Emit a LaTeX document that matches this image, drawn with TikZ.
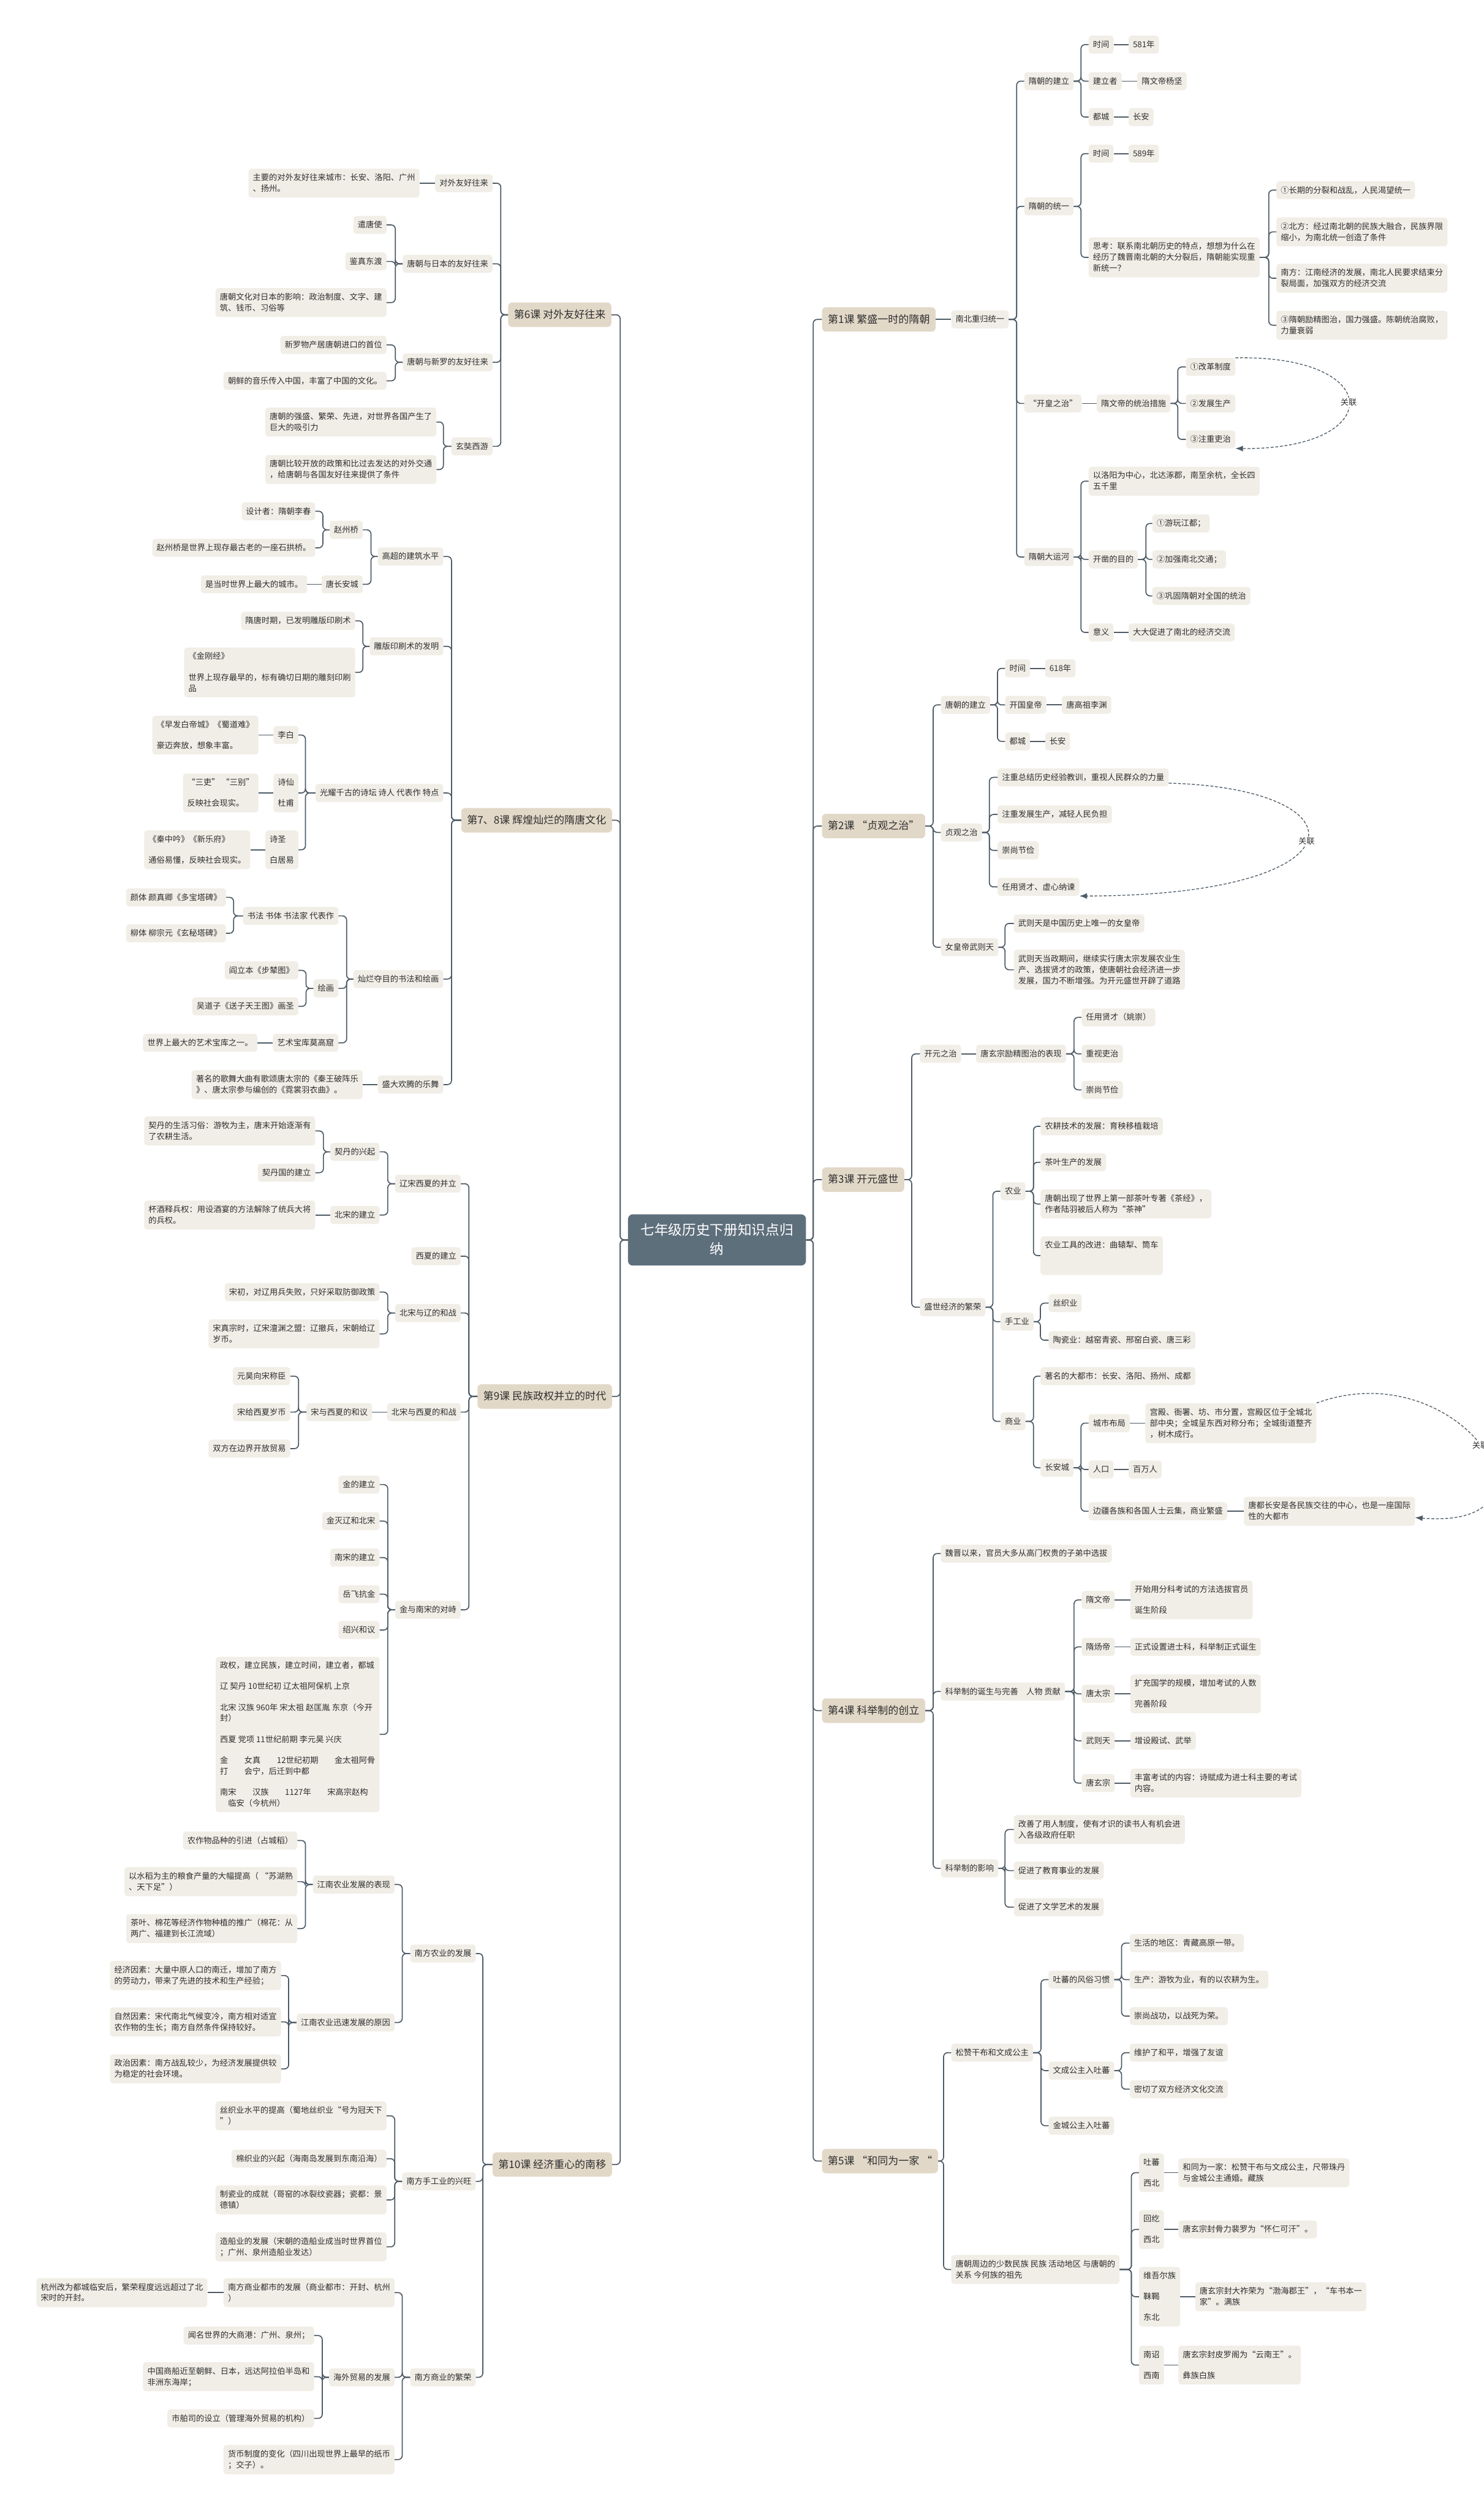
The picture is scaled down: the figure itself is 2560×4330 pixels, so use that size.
\documentclass[tikz,border=0pt]{standalone}
\usepackage{fontspec}
\setmainfont{Noto Sans CJK SC}
\usetikzlibrary{arrows.meta}
\definecolor{linec}{HTML}{4E5B66}
\definecolor{subc}{HTML}{F1EEE7}
\definecolor{lvc}{HTML}{E2D8C8}
\definecolor{rootc}{HTML}{5E6F7C}
\definecolor{txtc}{HTML}{2E2E2E}
\newcommand\myfs{\fontsize{14pt}{19pt}\selectfont}
\newcommand\myfl{\fontsize{18pt}{23pt}\selectfont}
\newcommand\myfr{\fontsize{24pt}{32pt}\selectfont}
\newcommand\stS{\rule[-2pt]{0pt}{14pt}}
\newcommand\stL{\rule[-3pt]{0pt}{18pt}}
\newcommand\stR{\rule[-4pt]{0pt}{24pt}}
\newcommand\pb{\\[17pt]}
\newcommand\cR[3]{\draw[lk] (#1.east) -- (#3,0 |- #1.east) |- (#2.west);}
\newcommand\cL[3]{\draw[lk] (#1.west) -- (#3,0 |- #1.west) |- (#2.east);}
\newcommand\sR[2]{\draw[lk] (#1.east) -- (#2.west);}
\newcommand\sL[2]{\draw[lk] (#1.west) -- (#2.east);}
\tikzset{
 lk/.style={draw=linec, line width=1.8pt, rounded corners=7pt},
 bx/.style={fill=subc, rounded corners=5pt, inner xsep=7.5pt, inner ysep=8.5pt, font=\myfs, align=left, text=txtc, execute at begin node=\stS, execute at end node=\stS},
 R/.style={bx, anchor=west},
 L/.style={bx, anchor=east},
 lv/.style={fill=lvc, rounded corners=7pt, inner xsep=10pt, inner ysep=12pt, font=\myfl, text=txtc, execute at begin node=\stL, execute at end node=\stL},
 rootn/.style={fill=rootc, text=white, rounded corners=8pt, font=\myfr, align=center, minimum width=307pt, inner ysep=16pt, execute at begin node=\stR, execute at end node=\stR},
 rel/.style={draw=linec, line width=1.4pt, dash pattern=on 5pt off 3pt, -{Latex[length=13pt,width=10pt]}},
 lab/.style={fill=white, font=\myfs, text=txtc, inner sep=2pt}
}
\begin{document}
\begin{tikzpicture}[x=1pt,y=-1pt]
\path[use as bounding box, fill=white] (0,0) rectangle (2560,4330);
\node[rootn] (root) at (1237,2139) {七年级历史下册知识点归\\纳};
% ---------------- RIGHT: lesson 1
\node[lv,anchor=west] (L1) at (1418,551) {第1课 繁盛一时的隋朝};
\node[R] (a) at (1641,551) {南北重归统一};
\node[R] (a1) at (1767,140) {隋朝的建立};
\node[R] (a2) at (1767,356) {隋朝的统一};
\node[R] (a3) at (1767,696) {“开皇之治”};
\node[R] (a4) at (1767,961) {隋朝大运河};
\node[R] (a11) at (1878,77) {时间};
\node[R] (a11x) at (1947,77) {581年};
\node[R] (a12) at (1878,140) {建立者};
\node[R] (a12x) at (1962,140) {隋文帝杨坚};
\node[R] (a13) at (1878,202) {都城};
\node[R] (a13x) at (1947,202) {长安};
\node[R] (a21) at (1878,265) {时间};
\node[R] (a21x) at (1947,265) {589年};
\node[R] (a22) at (1878,444) {思考：联系南北朝历史的特点，想想为什么在\\经历了魏晋南北朝的大分裂后，隋朝能实现重\\新统一？};
\node[R] (a221) at (2202,328) {①长期的分裂和战乱，人民渴望统一};
\node[R] (a222) at (2202,400) {②北方：经过南北朝的民族大融合，民族界限\\缩小，为南北统一创造了条件};
\node[R] (a223) at (2202,480) {南方：江南经济的发展，南北人民要求结束分\\裂局面，加强双方的经济交流};
\node[R] (a224) at (2202,561) {③隋朝励精图治，国力强盛。陈朝统治腐败，\\力量衰弱};
\node[R] (a31) at (1892,696) {隋文帝的统治措施};
\node[R] (a311) at (2046,633) {①改革制度};
\node[R] (a312) at (2046,696) {②发展生产};
\node[R] (a313) at (2046,758) {③注重吏治};
\node[R] (a41) at (1878,830) {以洛阳为中心，北达涿郡，南至余杭，全长四\\五千里};
\node[R] (a42) at (1878,965) {开凿的目的};
\node[R] (a421) at (1988,903) {①游玩江都；};
\node[R] (a422) at (1988,965) {②加强南北交通；};
\node[R] (a423) at (1988,1028) {③巩固隋朝对全国的统治};
\node[R] (a43) at (1878,1091) {意义};
\node[R] (a43x) at (1947,1091) {大大促进了南北的经济交流};
% lesson 2
\node[lv,anchor=west] (L2) at (1418,1425) {第2课 “贞观之治”};
\node[R] (b1) at (1623,1216) {唐朝的建立};
\node[R] (b11) at (1734,1153) {时间};
\node[R] (b11x) at (1803,1153) {618年};
\node[R] (b12) at (1734,1216) {开国皇帝};
\node[R] (b12x) at (1832,1216) {唐高祖李渊};
\node[R] (b13) at (1734,1279) {都城};
\node[R] (b13x) at (1803,1279) {长安};
\node[R] (b2) at (1623,1436) {贞观之治};
\node[R] (b21) at (1721,1341) {注重总结历史经验教训，重视人民群众的力量};
\node[R] (b22) at (1721,1405) {注重发展生产，减轻人民负担};
\node[R] (b23) at (1721,1467) {崇尚节俭};
\node[R] (b24) at (1721,1530) {任用贤才、虚心纳谏};
\node[R] (b3) at (1623,1634) {女皇帝武则天};
\node[R] (b31) at (1749,1593) {武则天是中国历史上唯一的女皇帝};
\node[R] (b32) at (1749,1673) {武则天当政期间，继续实行唐太宗发展农业生\\产、选拔贤才的政策，使唐朝社会经济进一步\\发展，国力不断增强。为开元盛世开辟了道路};
% lesson 3
\node[lv,anchor=west] (L3) at (1418,2035) {第3课 开元盛世};
\node[R] (c1) at (1587,1818) {开元之治};
\node[R] (c11) at (1684,1818) {唐玄宗励精图治的表现};
\node[R] (c111) at (1866,1755) {任用贤才（姚崇）};
\node[R] (c112) at (1866,1818) {重视吏治};
\node[R] (c113) at (1866,1880) {崇尚节俭};
\node[R] (c2) at (1587,2255) {盛世经济的繁荣};
\node[R] (c21) at (1726,2055) {农业};
\node[R] (c211) at (1795,1943) {农耕技术的发展：育秧移植栽培};
\node[R] (c212) at (1795,2005) {茶叶生产的发展};
\node[R] (c213) at (1795,2077) {唐朝出现了世界上第一部茶叶专著《茶经》，\\作者陆羽被后人称为“茶神”};
\node[R] (c214) at (1795,2166) {农业工具的改进：曲辕犁、筒车\pb\mbox{}};
\node[R] (c22) at (1726,2280) {手工业};
\node[R] (c221) at (1809,2248) {丝织业};
\node[R] (c222) at (1809,2312) {陶瓷业：越窑青瓷、邢窑白瓷、唐三彩};
\node[R] (c23) at (1726,2452) {商业};
\node[R] (c231) at (1795,2374) {著名的大都市：长安、洛阳、扬州、成都};
\node[R] (c232) at (1795,2532) {长安城};
\node[R] (c2321) at (1878,2455) {城市布局};
\node[R] (c2321x) at (1976,2455) {宫殿、衙署、坊、市分置，宫殿区位于全城北\\部中央；全城呈东西对称分布；全城街道整齐\\，树木成行。};
\node[R] (c2322) at (1878,2535) {人口};
\node[R] (c2322x) at (1947,2535) {百万人};
\node[R] (c2323) at (1878,2607) {边疆各族和各国人士云集，商业繁盛};
\node[R] (c2323x) at (2146,2607) {唐都长安是各民族交往的中心，也是一座国际\\性的大都市};
% lesson 4
\node[lv,anchor=west] (L4) at (1418,2951) {第4课 科举制的创立};
\node[R] (d1) at (1623,2680) {魏晋以来，官员大多从高门权贵的子弟中选拔};
\node[R] (d2) at (1623,2918) {科举制的诞生与完善　人物 贡献};
\node[R] (d21) at (1866,2760) {隋文帝};
\node[R] (d21x) at (1950,2760) {开始用分科考试的方法选拔官员\pb 诞生阶段};
\node[R] (d22) at (1866,2841) {隋炀帝};
\node[R] (d22x) at (1950,2841) {正式设置进士科，科举制正式诞生};
\node[R] (d23) at (1866,2922) {唐太宗};
\node[R] (d23x) at (1950,2922) {扩充国学的规模，增加考试的人数\pb 完善阶段};
\node[R] (d24) at (1866,3003) {武则天};
\node[R] (d24x) at (1950,3003) {增设殿试、武举};
\node[R] (d25) at (1866,3076) {唐玄宗};
\node[R] (d25x) at (1950,3076) {丰富考试的内容：诗赋成为进士科主要的考试\\内容。};
\node[R] (d3) at (1623,3223) {科举制的影响};
\node[R] (d31) at (1749,3156) {改善了用人制度，使有才识的读书人有机会进\\入各级政府任职};
\node[R] (d32) at (1749,3227) {促进了教育事业的发展};
\node[R] (d33) at (1749,3290) {促进了文学艺术的发展};
% lesson 5
\node[lv,anchor=west] (L5) at (1418,3728) {第5课 “和同为一家 “};
\node[R] (e1) at (1641,3541) {松赞干布和文成公主};
\node[R] (e11) at (1809,3415) {吐蕃的风俗习惯};
\node[R] (e111) at (1949,3352) {生活的地区：青藏高原一带。};
\node[R] (e112) at (1949,3415) {生产：游牧为业，有的以农耕为生。};
\node[R] (e113) at (1949,3478) {崇尚战功，以战死为荣。};
\node[R] (e12) at (1809,3572) {文成公主入吐蕃};
\node[R] (e121) at (1949,3541) {维护了和平，增强了友谊};
\node[R] (e122) at (1949,3604) {密切了双方经济文化交流};
\node[R] (e13) at (1809,3667) {金城公主入吐蕃};
\node[R] (e2) at (1641,3915) {唐朝周边的少数民族 民族 活动地区 与唐朝的\\关系 今何族的祖先};
\node[R] (e21) at (1965,3748) {吐蕃\pb 西北};
\node[R] (e21x) at (2033,3748) {和同为一家：松赞干布与文成公主，尺带珠丹\\与金城公主通婚。藏族};
\node[R] (e22) at (1965,3846) {回纥\pb 西北};
\node[R] (e22x) at (2033,3846) {唐玄宗封骨力裴罗为“怀仁可汗”。};
\node[R] (e23) at (1965,3962) {维吾尔族\pb 靺鞨\pb 东北};
\node[R] (e23x) at (2062,3962) {唐玄宗封大祚荣为“渤海郡王”，“车书本一\\家”。满族};
\node[R] (e24) at (1965,4080) {南诏\pb 西南};
\node[R] (e24x) at (2033,4080) {唐玄宗封皮罗阁为“云南王”。\pb 彝族白族};
% ---------------- LEFT: lesson 6
\node[lv,anchor=east] (L6) at (1055,543) {第6课 对外友好往来};
\node[L] (f1) at (850,316) {对外友好往来};
\node[L] (f1x) at (724,316) {主要的对外友好往来城市：长安、洛阳、广州\\、扬州。};
\node[L] (f2) at (850,455) {唐朝与日本的友好往来};
\node[L] (f21) at (667,388) {遣唐使};
\node[L] (f22) at (667,451) {鉴真东渡};
\node[L] (f23) at (667,522) {唐朝文化对日本的影响：政治制度、文字、建\\筑、钱币、习俗等};
\node[L] (f3) at (850,625) {唐朝与新罗的友好往来};
\node[L] (f31) at (667,595) {新罗物产居唐朝进口的首位};
\node[L] (f32) at (667,657) {朝鲜的音乐传入中国，丰富了中国的文化。};
\node[L] (f4) at (850,770) {玄奘西游};
\node[L] (f41) at (753,728) {唐朝的强盛、繁荣、先进，对世界各国产生了\\巨大的吸引力};
\node[L] (f42) at (753,810) {唐朝比较开放的政策和比过去发达的对外交通\\，给唐朝与各国友好往来提供了条件};
% lesson 7-8
\node[lv,anchor=east] (L7) at (1056,1415) {第7、8课 辉煌灿烂的隋唐文化};
\node[L] (g1) at (765,960) {高超的建筑水平};
\node[L] (g11) at (626,914) {赵州桥};
\node[L] (g111) at (544,882) {设计者：隋朝李春};
\node[L] (g112) at (544,945) {赵州桥是世界上现存最古老的一座石拱桥。};
\node[L] (g12) at (626,1008) {唐长安城};
\node[L] (g12x) at (530,1008) {是当时世界上最大的城市。};
\node[L] (g2) at (765,1115) {雕版印刷术的发明};
\node[L] (g21) at (613,1071) {隋唐时期，已发明雕版印刷术};
\node[L] (g22) at (613,1160) {《金刚经》\pb 世界上现存最早的，标有确切日期的雕刻印刷\\品};
\node[L] (g3) at (765,1368) {光耀千古的诗坛 诗人 代表作 特点};
\node[L] (g31) at (515,1268) {李白};
\node[L] (g31x) at (446,1268) {《早发白帝城》《蜀道难》\pb 豪迈奔放，想象丰富。};
\node[L] (g32) at (515,1368) {诗仙\pb 杜甫};
\node[L] (g32x) at (446,1368) {“三吏”\ “三别”\pb 反映社会现实。};
\node[L] (g33) at (515,1466) {诗圣\pb 白居易};
\node[L] (g33x) at (432,1466) {《秦中吟》《新乐府》\pb 通俗易懂，反映社会现实。};
\node[L] (g4) at (765,1689) {灿烂夺目的书法和绘画};
\node[L] (g41) at (584,1580) {书法 书体 书法家 代表作};
\node[L] (g411) at (390,1548) {颜体 颜真卿《多宝塔碑》};
\node[L] (g412) at (390,1610) {柳体 柳宗元《玄秘塔碑》};
\node[L] (g42) at (584,1705) {绘画};
\node[L] (g421) at (515,1674) {阎立本《步辇图》};
\node[L] (g422) at (515,1736) {吴道子《送子天王图》画圣};
\node[L] (g43) at (584,1799) {艺术宝库莫高窟};
\node[L] (g43x) at (444,1799) {世界上最大的艺术宝库之一。};
\node[L] (g5) at (765,1871) {盛大欢腾的乐舞};
\node[L] (g5x) at (626,1871) {著名的歌舞大曲有歌颂唐太宗的《秦王破阵乐\\》、唐太宗参与编创的《霓裳羽衣曲》。};
% lesson 9
\node[lv,anchor=east] (L9) at (1056,2409) {第9课 民族政权并立的时代};
\node[L] (h1) at (795,2042) {辽宋西夏的并立};
\node[L] (h11) at (655,1987) {契丹的兴起};
\node[L] (h111) at (544,1951) {契丹的生活习俗：游牧为主，唐末开始逐渐有\\了农耕生活。};
\node[L] (h112) at (544,2023) {契丹国的建立};
\node[L] (h12) at (655,2096) {北宋的建立};
\node[L] (h12x) at (544,2096) {杯酒释兵权：用设酒宴的方法解除了统兵大将\\的兵权。};
\node[L] (h2) at (795,2167) {西夏的建立};
\node[L] (h3) at (795,2265) {北宋与辽的和战};
\node[L] (h31) at (655,2229) {宋初，对辽用兵失败，只好采取防御政策};
\node[L] (h32) at (655,2301) {宋真宗时，辽宋澶渊之盟：辽撤兵，宋朝给辽\\岁币。};
\node[L] (h4) at (795,2436) {北宋与西夏的和战};
\node[L] (h41) at (642,2436) {宋与西夏的和议};
\node[L] (h411) at (501,2374) {元昊向宋称臣};
\node[L] (h412) at (501,2436) {宋给西夏岁币};
\node[L] (h413) at (501,2499) {双方在边界开放贸易};
\node[L] (h5) at (795,2777) {金与南宋的对峙};
\node[L] (h51) at (655,2561) {金的建立};
\node[L] (h52) at (655,2624) {金灭辽和北宋};
\node[L] (h53) at (655,2687) {南宋的建立};
\node[L] (h54) at (655,2750) {岳飞抗金};
\node[L] (h55) at (655,2812) {绍兴和议};
\node[L] (h56) at (655,2992) {政权，建立民族，建立时间，建立者，都城\pb 辽 契丹 10世纪初 辽太祖阿保机 上京\pb 北宋 汉族 960年 宋太祖 赵匡胤 东京（今开\\封）\pb 西夏 党项 11世纪前期 李元昊 兴庆\pb 金　　女真　　12世纪初期　　金太祖阿骨\\打　　会宁，后迁到中都\pb 南宋　　汉族　　1127年　　宋高宗赵构\\　临安（今杭州）};
% lesson 10
\node[lv,anchor=east] (L10) at (1056,3734) {第10课 经济重心的南移};
\node[L] (i1) at (821,3370) {南方农业的发展};
\node[L] (i11) at (681,3251) {江南农业发展的表现};
\node[L] (i111) at (513,3175) {农作物品种的引进（占城稻）};
\node[L] (i112) at (513,3246) {以水稻为主的粮食产量的大幅提高（ “苏湖熟\\、天下足”）};
\node[L] (i113) at (513,3327) {茶叶、棉花等经济作物种植的推广（棉花：从\\两广、福建到长江流域）};
\node[L] (i12) at (681,3489) {江南农业迅速发展的原因};
\node[L] (i121) at (485,3408) {经济因素：大量中原人口的南迁，增加了南方\\的劳动力，带来了先进的技术和生产经验；};
\node[L] (i122) at (485,3488) {自然因素：宋代南北气候变冷，南方相对适宜\\农作物的生长；南方自然条件保持较好。};
\node[L] (i123) at (485,3569) {政治因素：南方战乱较少，为经济发展提供较\\为稳定的社会环境。};
\node[L] (i2) at (821,3763) {南方手工业的兴旺};
\node[L] (i21) at (667,3650) {丝织业水平的提高（蜀地丝织业“号为冠天下\\”）};
\node[L] (i22) at (667,3724) {棉织业的兴起（海南岛发展到东南沿海）};
\node[L] (i23) at (667,3795) {制瓷业的成就（哥窑的冰裂纹瓷器；瓷都：景\\德镇）};
\node[L] (i24) at (667,3876) {造船业的发展（宋朝的造船业成当时世界首位\\；广州、泉州造船业发达）};
\node[L] (i3) at (821,4101) {南方商业的繁荣};
\node[L] (i31) at (681,3955) {南方商业都市的发展（商业都市：开封、杭州\\）};
\node[L] (i31x) at (358,3955) {杭州改为都城临安后，繁荣程度远远超过了北\\宋时的开封。};
\node[L] (i32) at (681,4101) {海外贸易的发展};
\node[L] (i321) at (542,4029) {闻名世界的大商港：广州、泉州；};
\node[L] (i322) at (542,4100) {中国商船近至朝鲜、日本，远达阿拉伯半岛和\\非洲东海岸；};
\node[L] (i323) at (542,4172) {市舶司的设立（管理海外贸易的机构）};
\node[L] (i33) at (681,4243) {货币制度的变化（四川出现世界上最早的纸币\\；交子）。};
% ---------------- connectors right
\foreach \c in {L1,L2,L3,L4,L5} {\cR{root}{\c}{1403}}
\sR{L1}{a}
\foreach \c in {a1,a2,a3,a4} {\cR{a}{\c}{1754}}
\foreach \c in {a11,a12,a13} {\cR{a1}{\c}{1865}}
\sR{a11}{a11x} \sR{a12}{a12x} \sR{a13}{a13x}
\foreach \c in {a21,a22} {\cR{a2}{\c}{1865}}
\sR{a21}{a21x}
\foreach \c in {a221,a222,a223,a224} {\cR{a22}{\c}{2189}}
\sR{a3}{a31}
\foreach \c in {a311,a312,a313} {\cR{a31}{\c}{2032}}
\foreach \c in {a41,a42,a43} {\cR{a4}{\c}{1865}}
\foreach \c in {a421,a422,a423} {\cR{a42}{\c}{1977}}
\sR{a43}{a43x}
\foreach \c in {b1,b2,b3} {\cR{L2}{\c}{1610}}
\foreach \c in {b11,b12,b13} {\cR{b1}{\c}{1721}}
\sR{b11}{b11x} \sR{b12}{b12x} \sR{b13}{b13x}
\foreach \c in {b21,b22,b23,b24} {\cR{b2}{\c}{1707}}
\foreach \c in {b31,b32} {\cR{b3}{\c}{1734}}
\foreach \c in {c1,c2} {\cR{L3}{\c}{1573}}
\sR{c1}{c11}
\foreach \c in {c111,c112,c113} {\cR{c11}{\c}{1853}}
\foreach \c in {c21,c22,c23} {\cR{c2}{\c}{1713}}
\foreach \c in {c211,c212,c213,c214} {\cR{c21}{\c}{1783}}
\foreach \c in {c221,c222} {\cR{c22}{\c}{1795}}
\foreach \c in {c231,c232} {\cR{c23}{\c}{1783}}
\foreach \c in {c2321,c2322,c2323} {\cR{c232}{\c}{1865}}
\sR{c2321}{c2321x} \sR{c2322}{c2322x} \sR{c2323}{c2323x}
\foreach \c in {d1,d2,d3} {\cR{L4}{\c}{1610}}
\foreach \c in {d21,d22,d23,d24,d25} {\cR{d2}{\c}{1853}}
\sR{d21}{d21x} \sR{d22}{d22x} \sR{d23}{d23x} \sR{d24}{d24x} \sR{d25}{d25x}
\foreach \c in {d31,d32,d33} {\cR{d3}{\c}{1734}}
\foreach \c in {e1,e2} {\cR{L5}{\c}{1628}}
\foreach \c in {e11,e12,e13} {\cR{e1}{\c}{1796}}
\foreach \c in {e111,e112,e113} {\cR{e11}{\c}{1935}}
\foreach \c in {e121,e122} {\cR{e12}{\c}{1935}}
\foreach \c in {e21,e22,e23,e24} {\cR{e2}{\c}{1952}}
\sR{e21}{e21x} \sR{e22}{e22x} \sR{e23}{e23x} \sR{e24}{e24x}
% ---------------- connectors left
\foreach \c in {L6,L7,L9,L10} {\cL{root}{\c}{1070}}
\foreach \c in {f1,f2,f3,f4} {\cL{L6}{\c}{864}}
\sL{f1}{f1x}
\foreach \c in {f21,f22,f23} {\cL{f2}{\c}{682}}
\foreach \c in {f31,f32} {\cL{f3}{\c}{682}}
\foreach \c in {f41,f42} {\cL{f4}{\c}{765}}
\foreach \c in {g1,g2,g3,g4,g5} {\cL{L7}{\c}{779}}
\foreach \c in {g11,g12} {\cL{g1}{\c}{640}}
\foreach \c in {g111,g112} {\cL{g11}{\c}{557}}
\sL{g12}{g12x}
\foreach \c in {g21,g22} {\cL{g2}{\c}{626}}
\foreach \c in {g31,g32,g33} {\cL{g3}{\c}{527}}
\sL{g31}{g31x} \sL{g32}{g32x} \sL{g33}{g33x}
\foreach \c in {g41,g42,g43} {\cL{g4}{\c}{598}}
\foreach \c in {g411,g412} {\cL{g41}{\c}{403}}
\foreach \c in {g421,g422} {\cL{g42}{\c}{528}}
\sL{g43}{g43x} \sL{g5}{g5x}
\foreach \c in {h1,h2,h3,h4,h5} {\cL{L9}{\c}{809}}
\foreach \c in {h11,h12} {\cL{h1}{\c}{669}}
\foreach \c in {h111,h112} {\cL{h11}{\c}{558}}
\sL{h12}{h12x}
\foreach \c in {h31,h32} {\cL{h3}{\c}{669}}
\sL{h4}{h41}
\foreach \c in {h411,h412,h413} {\cL{h41}{\c}{515}}
\foreach \c in {h51,h52,h53,h54,h55,h56} {\cL{h5}{\c}{669}}
\foreach \c in {i1,i2,i3} {\cL{L10}{\c}{833}}
\foreach \c in {i11,i12} {\cL{i1}{\c}{694}}
\foreach \c in {i111,i112,i113} {\cL{i11}{\c}{527}}
\foreach \c in {i121,i122,i123} {\cL{i12}{\c}{498}}
\foreach \c in {i21,i22,i23,i24} {\cL{i2}{\c}{681}}
\foreach \c in {i31,i32,i33} {\cL{i3}{\c}{694}}
\sL{i31}{i31x}
\foreach \c in {i321,i322,i323} {\cL{i32}{\c}{556}}
% ---------------- relation arcs
\draw[rel] (a311.north east) .. controls (2392,612) and (2392,776) .. (a313.south east) node[lab,pos=.5] {关联};
\draw[rel] ([yshift=-10pt]b21.east) .. controls (2359,1360) and (2359,1545) .. (b24.south east) node[lab,pos=.5] {关联};
\draw[rel] (c2321x.north east) .. controls (2520,2330) and (2720,2640) .. ([yshift=-11pt]c2323x.east) node[lab,pos=.5] {关联};
\end{tikzpicture}
\end{document}
